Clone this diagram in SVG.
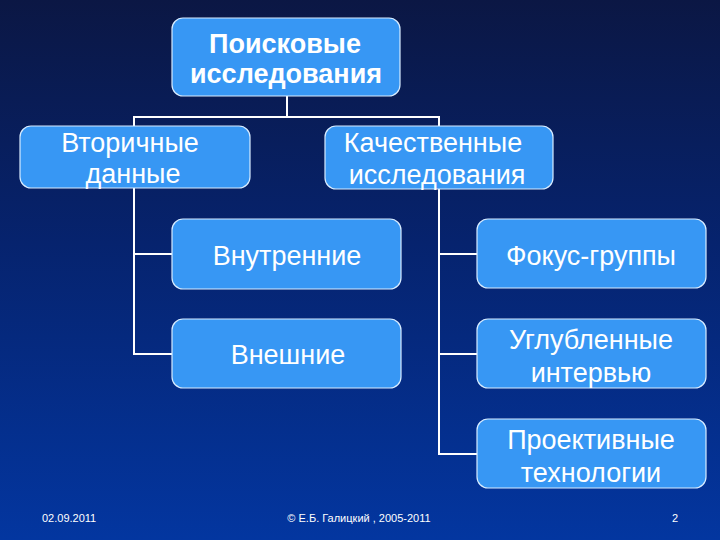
<svg xmlns="http://www.w3.org/2000/svg" width="720" height="540" viewBox="0 0 720 540">
  <defs>
    <linearGradient id="bg" x1="0" y1="0" x2="0" y2="1">
      <stop offset="0" stop-color="#0b1744"/>
      <stop offset="0.45" stop-color="#06236e"/>
      <stop offset="1" stop-color="#0336a0"/>
    </linearGradient>
    <style>
      .box { fill: #3797f4; stroke: #d8ecff; stroke-width: 1.2; }
      .t { font-family: "Liberation Sans", Arial, sans-serif; font-size: 27px; fill: #ffffff; text-anchor: middle; }
      .tb { font-weight: bold; }
      .conn { stroke: #ffffff; stroke-width: 2; fill: none; }
      .foot { font-family: "Liberation Sans", Arial, sans-serif; font-size: 11px; fill: #ffffff; }
    </style>
  </defs>
  <rect x="0" y="0" width="720" height="540" fill="url(#bg)"/>

  <g id="connectors">
    <line class="conn" x1="287" y1="96" x2="287" y2="117"/>
    <line class="conn" x1="133" y1="117" x2="440" y2="117"/>
    <line class="conn" x1="134" y1="116" x2="134" y2="355"/>
    <line class="conn" x1="439" y1="116" x2="439" y2="455"/>
    <line class="conn" x1="133" y1="254" x2="172" y2="254"/>
    <line class="conn" x1="133" y1="354" x2="172" y2="354"/>
    <line class="conn" x1="438" y1="254" x2="477" y2="254"/>
    <line class="conn" x1="438" y1="354" x2="477" y2="354"/>
    <line class="conn" x1="438" y1="454" x2="477" y2="454"/>
  </g>

  <g id="node-poiskovye">
    <rect class="box" x="172" y="18" width="228" height="78" rx="11"/>
    <text class="t tb" x="285" y="53">Поисковые</text>
    <text class="t tb" x="286" y="83">исследования</text>
  </g>

  <g id="node-vtorichnye">
    <rect class="box" x="20" y="126" width="230" height="62" rx="11"/>
    <text class="t" x="130" y="152">Вторичные</text>
    <text class="t" x="133" y="183">данные</text>
  </g>

  <g id="node-kachestvennye">
    <rect class="box" x="325" y="126" width="228" height="63" rx="11"/>
    <text class="t" x="433" y="152">Качественные</text>
    <text class="t" x="437" y="184">исследования</text>
  </g>

  <g id="node-vnutrennie">
    <rect class="box" x="172" y="219" width="229" height="70" rx="11"/>
    <text class="t" x="287" y="265">Внутренние</text>
  </g>

  <g id="node-vneshnie">
    <rect class="box" x="172" y="319" width="229" height="69" rx="11"/>
    <text class="t" x="288" y="364">Внешние</text>
  </g>

  <g id="node-fokus">
    <rect class="box" x="477" y="219" width="229" height="69" rx="11"/>
    <text class="t" x="591" y="265">Фокус-группы</text>
  </g>

  <g id="node-uglublennye">
    <rect class="box" x="477" y="319" width="229" height="69" rx="11"/>
    <text class="t" x="591" y="349">Углубленные</text>
    <text class="t" x="591" y="382">интервью</text>
  </g>

  <g id="node-proektivnye">
    <rect class="box" x="477" y="419" width="229" height="69" rx="11"/>
    <text class="t" x="591" y="449">Проективные</text>
    <text class="t" x="591" y="482">технологии</text>
  </g>

  <g id="footer">
    <text class="foot" x="42" y="522">02.09.2011</text>
    <text class="foot" x="359" y="522" text-anchor="middle">© Е.Б. Галицкий , 2005-2011</text>
    <text class="foot" x="672" y="522">2</text>
  </g>
</svg>
